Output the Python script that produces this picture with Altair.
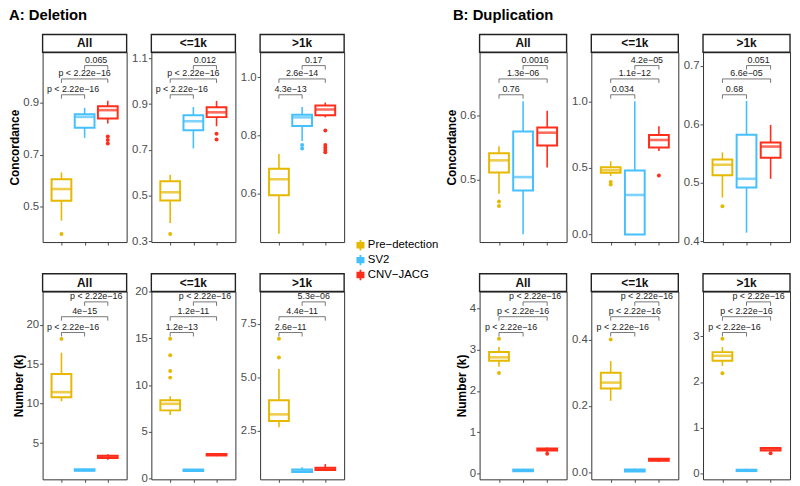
import altair as alt
import pandas as pd

# ---------------- data ----------------
methods = ["Pre−detection", "SV2", "CNV−JACG"]
colors = ["#E7B800", "#45C0FF", "#FF2D1A"]
positions = [1, 2, 3]

# panels 0-5: Concordance (Del All, Del <=1k, Del >1k, Dup All, Dup <=1k, Dup >1k)
# panels 6-11: Number (k) in the same order
strip_labels = ["All", "<=1k", ">1k", "All", "<=1k", ">1k",
                "All", "<=1k", ">1k", "All", "<=1k", ">1k"]
block_titles = ["A: Deletion", "B: Duplication"]

y_domains = [
    [0.362, 1.096], [0.296, 1.127], [0.433, 1.086],
    [0.403, 0.698], [-0.057, 1.369], [0.399, 0.723],
    [0.41, 24.2], [-0.07, 20.0], [0.24, 9.0],
    [-0.136, 4.4], [-0.022, 0.545], [-0.12, 3.97],
]
y_ticks = [
    [0.5, 0.7, 0.9], [0.3, 0.5, 0.7, 0.9, 1.1], [0.6, 0.8, 1.0],
    [0.5, 0.6], [0.0, 0.5, 1.0], [0.4, 0.5, 0.6, 0.7],
    [5, 10, 15, 20], [0, 5, 10, 15, 20], [2.5, 5.0, 7.5],
    [0, 1, 2, 3, 4], [0.0, 0.1, 0.2, 0.3, 0.4, 0.5], [0, 1, 2, 3],
]
y_formats = [".1f", ".1f", ".1f", ".1f", ".1f", ".1f",
             "d", "d", ".1f", "d", ".1f", "d"]

whisker_lo = [
    [0.445, 0.765, 0.820], [0.380, 0.706, 0.803], [0.462, 0.781, 0.862],
    [0.478, 0.415, 0.519], [0.440, 0.000, 0.628], [0.475, 0.415, 0.507],
    [10.3, 1.40, 2.90], [6.80, 0.75, 2.40], [2.67, 0.55, 0.65],
    [2.58, 0.04, 0.52], [0.215, 0.000, 0.032], [2.35, 0.04, 0.49],
]
box_q1 = [
    [0.522, 0.804, 0.840], [0.478, 0.786, 0.843], [0.594, 0.832, 0.869],
    [0.511, 0.483, 0.553], [0.463, 0.000, 0.654], [0.513, 0.492, 0.543],
    [10.8, 1.50, 3.10], [7.30, 0.82, 2.48], [2.96, 0.58, 0.68],
    [2.73, 0.06, 0.56], [0.252, 0.002, 0.034], [2.46, 0.06, 0.51],
]
box_median = [
    [0.567, 0.846, 0.872], [0.514, 0.825, 0.864], [0.649, 0.862, 0.889],
    [0.530, 0.504, 0.573], [0.483, 0.297, 0.710], [0.531, 0.507, 0.562],
    [11.45, 1.58, 3.25], [8.00, 0.90, 2.56], [3.27, 0.64, 0.72],
    [2.81, 0.08, 0.58], [0.270, 0.005, 0.037], [2.57, 0.07, 0.53],
]
box_q3 = [
    [0.605, 0.856, 0.887], [0.562, 0.851, 0.886], [0.685, 0.871, 0.903],
    [0.541, 0.575, 0.581], [0.505, 0.480, 0.747], [0.540, 0.582, 0.569],
    [13.75, 1.68, 3.40], [8.37, 0.98, 2.64], [3.93, 0.70, 0.78],
    [2.94, 0.10, 0.61], [0.300, 0.008, 0.040], [2.65, 0.09, 0.56],
]
whisker_hi = [
    [0.631, 0.881, 0.908], [0.591, 0.887, 0.914], [0.736, 0.898, 0.913],
    [0.552, 0.622, 0.607], [0.550, 1.000, 0.814], [0.552, 0.640, 0.599],
    [16.45, 1.75, 3.60], [8.80, 1.05, 2.70], [5.39, 0.80, 0.95],
    [3.06, 0.12, 0.63], [0.335, 0.011, 0.042], [2.76, 0.11, 0.57],
]
outliers = [
    [[0.393], [], [0.770, 0.757, 0.743]],
    [[0.331], [], [0.770, 0.745]],
    [[], [0.767, 0.755], [0.817, 0.767, 0.758, 0.750, 0.742]],
    [[0.466, 0.459], [], []],
    [[0.394, 0.376], [], [0.443]],
    [[0.460], [], []],
    [[18.2], [], []],
    [[14.95, 13.2, 11.5, 10.8], [], []],
    [[6.80, 5.92], [], []],
    [[3.26, 2.43], [], [0.48]],
    [[0.40], [], []],
    [[2.94, 2.19], [], [0.45]],
]
# comparisons: (Pre vs SV2), (Pre vs CNV), (SV2 vs CNV)
comparisons = [(1, 2), (1, 3), (2, 3)]
p_labels = [
    ["p < 2.22e−16", "p < 2.22e−16", "0.065"],
    ["p < 2.22e−16", "p < 2.22e−16", "0.012"],
    ["4.3e−13", "2.6e−14", "0.17"],
    ["0.76", "1.3e−06", "0.0016"],
    ["0.034", "1.1e−12", "4.2e−05"],
    ["0.68", "6.6e−05", "0.051"],
    ["p < 2.22e−16", "4e−15", "p < 2.22e−16"],
    ["1.2e−13", "1.2e−11", "p < 2.22e−16"],
    ["2.6e−11", "4.4e−11", "5.3e−06"],
    ["p < 2.22e−16", "p < 2.22e−16", "p < 2.22e−16"],
    ["p < 2.22e−16", "p < 2.22e−16", "p < 2.22e−16"],
    ["p < 2.22e−16", "p < 2.22e−16", "p < 2.22e−16"],
]

FONT = "Liberation Sans"
BOX_PATH = "M0,-1V-0.45M0,0.45V1M-0.6,-0.45H0.6V0.45H-0.6ZM-0.6,0H0.6"

LEGEND = alt.Legend(
    title=None, orient="none", legendX=315, legendY=188,
    labelFont=FONT, labelFontSize=11.5, labelColor="black",
    symbolType=BOX_PATH, symbolSize=110, symbolStrokeWidth=1.8,
    symbolFillColor="white", rowPadding=0, clipHeight=14.5,
    labelOffset=1, padding=0,
)
COLOR_SCALE = alt.Scale(domain=methods, range=colors)


def make_panel(i, width, height, ytitle, bracket_px, block_title=None, title_dx=0):
    lo_d, hi_d = y_domains[i]
    per_px = (hi_d - lo_d) / height

    box = pd.DataFrame({
        "pos": positions, "method": methods,
        "lo": whisker_lo[i], "q1": box_q1[i], "med": box_median[i],
        "q3": box_q3[i], "hi": whisker_hi[i],
    })
    out_rows = []
    for k, vals in enumerate(outliers[i]):
        for v in vals:
            out_rows.append({"pos": positions[k], "method": methods[k], "value": v})
    out = pd.DataFrame(out_rows, columns=["pos", "method", "value"])

    br_rows = []
    for (a, b), lab, off in zip(comparisons, p_labels[i], bracket_px):
        yv = hi_d - off * per_px
        br_rows.append({"x1": a, "x2": b, "xm": (a + b) / 2, "y": yv,
                        "ydrop": yv - 4 * per_px, "label": lab})
    br = pd.DataFrame(br_rows)

    xs = alt.Scale(domain=[0.4, 3.6], nice=False, zero=False)
    ys = alt.Scale(domain=[lo_d, hi_d], nice=False, zero=False)
    x_ax = alt.Axis(values=positions, labels=False, title=None, grid=False,
                    domain=False, ticks=True, tickSize=3)
    if ytitle:
        y_ax = alt.Axis(values=y_ticks[i], format=y_formats[i], grid=False,
                        domain=False, title=ytitle)
    else:
        y_ax = alt.Axis(values=y_ticks[i], format=y_formats[i], grid=False,
                        domain=False, title=None)
    col = alt.Color("method:N", scale=COLOR_SCALE, legend=LEGEND)

    whisk = alt.Chart(box).mark_rule(strokeWidth=1.6).encode(
        x=alt.X("pos:Q", scale=xs, axis=x_ax),
        y=alt.Y("lo:Q", scale=ys, axis=y_ax),
        y2="hi:Q",
        color=col,
    )
    boxes = alt.Chart(box).mark_bar(size=20, filled=False, fill="white",
                                    strokeWidth=2).encode(
        x="pos:Q", y="q1:Q", y2="q3:Q", color=col,
    )
    med = alt.Chart(box).mark_tick(orient="horizontal", size=20, thickness=2.6).encode(
        x="pos:Q", y="med:Q", color=col,
    )
    pts = alt.Chart(out).mark_circle(size=16, opacity=1).encode(
        x="pos:Q", y="value:Q", color=col,
    )
    hline = alt.Chart(br).mark_rule(color="#555555", strokeWidth=0.8).encode(
        x="x1:Q", x2="x2:Q", y="y:Q")
    lt = alt.Chart(br).mark_rule(color="#555555", strokeWidth=0.8).encode(
        x="x1:Q", y="y:Q", y2="ydrop:Q")
    rt = alt.Chart(br).mark_rule(color="#555555", strokeWidth=0.8).encode(
        x="x2:Q", y="y:Q", y2="ydrop:Q")
    blab = alt.Chart(br).mark_text(font=FONT, fontSize=9, color="#222222",
                                   baseline="bottom", dy=-1).encode(
        x="xm:Q", y="y:Q", text="label:N")

    sdf = pd.DataFrame({"label": [strip_labels[i]]})
    strip_rect = alt.Chart(sdf).mark_rect(fill="white", stroke="#222222",
                                          strokeWidth=1.4).encode(
        x=alt.value(0), x2=alt.value(width), y=alt.value(-18), y2=alt.value(0))
    strip_text = alt.Chart(sdf).mark_text(font=FONT, fontSize=12, fontWeight="bold",
                                          color="#111111", baseline="middle").encode(
        x=alt.value(width / 2), y=alt.value(-9), text="label:N")

    layers = [whisk, boxes, med, pts, hline, lt, rt, blab, strip_rect, strip_text]
    if block_title:
        tdf = pd.DataFrame({"t": [block_title]})
        layers.append(alt.Chart(tdf).mark_text(
            font=FONT, fontSize=15, fontWeight="bold", color="black",
            align="left", baseline="alphabetic").encode(
            x=alt.value(title_dx), y=alt.value(-33), text="t:N"))
    return alt.layer(*layers).properties(width=width, height=height)


def spacer(width, height):
    return alt.Chart(pd.DataFrame({"a": [0]})).mark_point(opacity=0).encode(
        x=alt.X("a:Q", axis=None), y=alt.Y("a:Q", axis=None)
    ).properties(width=width, height=height,
                 view=alt.ViewBackground(stroke="transparent"))


TOP_PX = [43, 27, 13.5]
BOT_PX = [41.5, 25.5, 10.5]

WA, WB = 85, 88
HT, HB = 192, 190

cells = [
    make_panel(0, WA, HT, "Concordance", TOP_PX, block_titles[0], -34),
    make_panel(1, WA, HT, None, TOP_PX),
    make_panel(2, WA, HT, None, TOP_PX),
    spacer(87, HT),
    make_panel(3, WB, HT, "Concordance", TOP_PX, block_titles[1], -27),
    make_panel(4, WB, HT, None, TOP_PX),
    make_panel(5, WB, HT, None, TOP_PX),
    make_panel(6, WA, HB, "Number (k)", BOT_PX),
    make_panel(7, WA, HB, None, BOT_PX),
    make_panel(8, WA, HB, None, BOT_PX),
    spacer(87, HB),
    make_panel(9, WB, HB, "Number (k)", BOT_PX),
    make_panel(10, WB, HB, None, BOT_PX),
    make_panel(11, WB, HB, None, BOT_PX),
]

chart = alt.concat(*cells, columns=7, bounds="flush",
                   spacing=alt.RowColnumber(row=50, column=25)).properties(
    padding={"left": 0, "top": -4, "right": 0, "bottom": 0},
    autosize=alt.AutoSizeParams(type="pad"),
).configure_view(
    stroke="#333333", strokeWidth=1
).configure_axis(
    labelFont=FONT, labelFontSize=11.5, labelColor="#4d4d4d",
    tickColor="#4d4d4d", tickSize=3, labelPadding=1,
    titleFont=FONT, titleFontSize=12, titleFontWeight="bold", titleColor="black",
    titlePadding=1,
)

chart.save("out.html", embed_options={"renderer": "svg", "actions": False})
